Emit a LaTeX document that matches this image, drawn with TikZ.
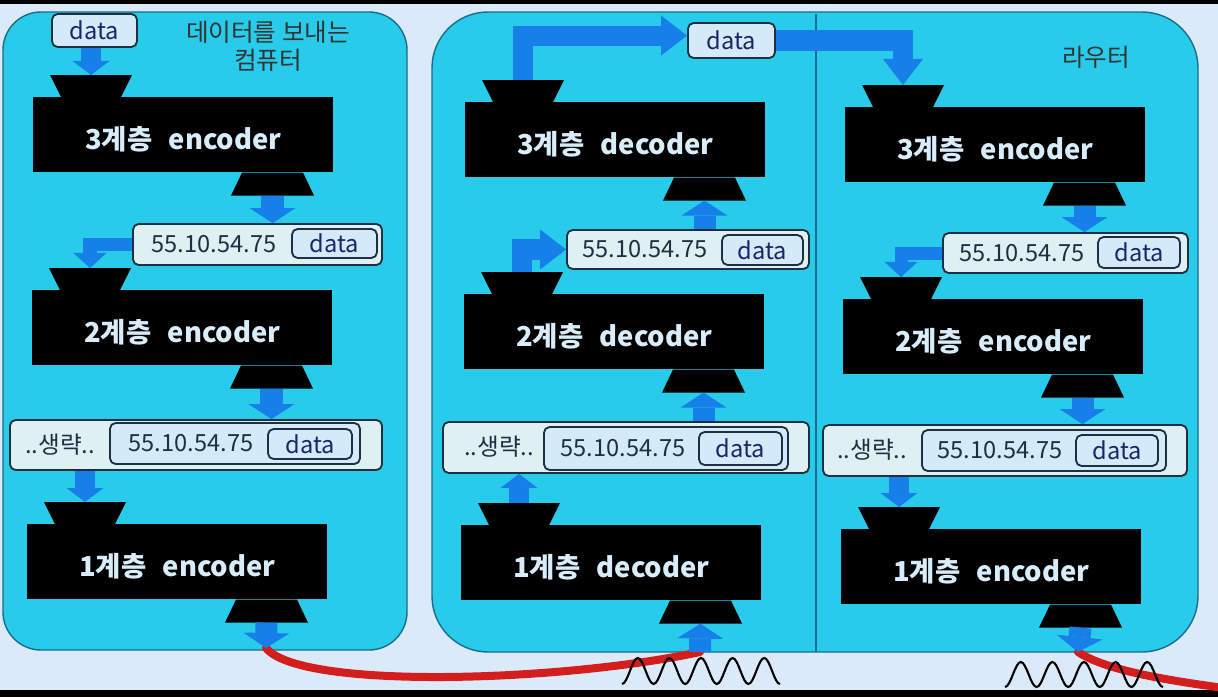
\documentclass[tikz,border=0pt]{standalone}
\usepackage{fontspec}
\setmainfont{Noto Sans CJK KR}
\usetikzlibrary{arrows.meta}

\definecolor{bgcol}{RGB}{218,234,248}
\definecolor{panelfill}{RGB}{40,204,234}
\definecolor{panelline}{RGB}{22,110,140}
\definecolor{arrowblue}{RGB}{22,128,232}
\definecolor{boxfill}{RGB}{222,240,242}
\definecolor{tagfill}{RGB}{212,234,248}
\definecolor{boxline}{RGB}{28,48,66}
\definecolor{blocktext}{RGB}{216,236,250}
\definecolor{cablered}{RGB}{212,30,30}

\newcommand\px[1]{#1*0.025cm}

\begin{document}
\begin{tikzpicture}[x=0.025cm, y=-0.025cm,
  layer/.style={fill=black, inner sep=0pt, minimum width=7.5cm, minimum height=1.875cm},
  layertext/.style={text=blocktext, inner sep=0pt, yshift=-3.2pt,
    font=\fontsize{19.5}{24}\selectfont\bfseries},
  packet/.style={draw=boxline, line width=1.3pt, fill=boxfill, rounded corners=4pt},
  tag/.style={draw=boxline, line width=1.3pt, fill=tagfill, rounded corners=4pt,
    text=boxline!80!blue, font=\fontsize{16.8}{18}\selectfont, inner sep=0pt},
  addr/.style={text=boxline, font=\fontsize{16.8}{18}\selectfont, inner sep=0pt},
  title/.style={text=black!80, font=\fontsize{17.5}{20}\selectfont, align=center},
  bigarrow/.style={draw=arrowblue, line width=0.55cm,
    -{Triangle[length=0.375cm, width=1.15cm, line width=0pt]}},
  smallarrow/.style={draw=arrowblue, line width=0.5cm,
    -{Triangle[length=0.35cm, width=0.925cm, line width=0pt]}},
  bendarrow/.style={draw=arrowblue, line width=0.325cm, line join=miter,
    -{Triangle[length=0.375cm, width=0.825cm, line width=0pt]}},
  toparrow/.style={draw=arrowblue, line width=0.5cm, line join=miter,
    -{Triangle[length=0.65cm, width=1.0cm, line width=0pt]}},
  cable/.style={draw=cablered, line width=0.2cm, line cap=round},
  wave/.style={draw=black, line width=1.5pt}]

\useasboundingbox (0,0) rectangle (1218,697);
\fill[bgcol] (0,0) rectangle (1218,697);
\fill[black] (0,0) rectangle (1218,4);
\fill[black] (0,690) rectangle (1218,697);

% panels
\draw[panelline, fill=panelfill, line width=1pt, rounded corners=0.95cm] (3,12) rectangle (407,650);
\draw[panelline, fill=panelfill, line width=1pt, rounded corners=1.4cm] (432,12) rectangle (1198,652);
\draw[panelline, line width=0.8pt] (816,14) -- (816,651);

\node[title] (sender) at (268,46) {데이터를 보내는\\컴퓨터};
\node[title] (router) at (1096,57) {라우터};

% cables and signals
\coordinate (llink) at (266,648);
\coordinate (mlink) at (700,652);
\coordinate (rlink) at (1078,652);
\coordinate (cableend) at (1224,688);
\draw[cable] (llink) .. controls (300,690) and (560,682) .. (mlink);
\draw[cable] (rlink) .. controls (1105,670) and (1165,680) .. (cableend);
\draw[wave] (622,684) \foreach \i in {1,...,5}{cos ++(7.9,-13) sin ++(7.9,-13) cos ++(7.9,13) sin ++(7.9,13)};
\draw[wave] (1005,687) \foreach \i in {1,...,5}{cos ++(7.9,-12.5) sin ++(7.9,-12.5) cos ++(7.9,12.5) sin ++(7.9,12.5)};

% layer blocks
\foreach \name/\x/\y/\lvl/\word in {L3/33/97/3계층/encoder, L2/32/290/2계층/encoder,
    L1/27/524/1계층/encoder, M3/465/102/3계층/decoder, M2/464/294/2계층/decoder,
    M1/461/525/1계층/decoder, R3/845/107/3계층/encoder, R2/843/299/2계층/encoder,
    R1/841/529/1계층/encoder}{
  \node[layer, anchor=north west] (\name) at (\x,\y) {};
  \node[layertext] (\name-label) at (\name.center) {\lvl\hspace{0.6em}\word};
  \fill ([shift={(28,0)}]\name.north west) -- ++(-11,-22) -- ++(82,0) -- ++(-11,22) -- cycle;
  \fill ([shift={(209,0)}]\name.south west) -- ++(-11,23) -- ++(83,0) -- ++(-11,-23) -- cycle;
  \coordinate (\name-in) at ([shift={(58,-22)}]\name.north west);
  \coordinate (\name-out) at ([shift={(239.5,23)}]\name.south west);
}

% left column
\node[tag, minimum width=\px{85}, minimum height=\px{33}] (ldata) at (94.5,30.5) {data};
\node[packet, minimum width=\px{249}, minimum height=\px{41}] (lp1) at (257.5,244.5) {};
\node[addr] (lp1-addr) at (214,244.5) {55.10.54.75};
\node[tag, minimum width=\px{85}, minimum height=\px{29}] (lp1-data) at (334.5,243.5) {data};
\node[packet, minimum width=\px{372}, minimum height=\px{50}] (lp2) at (196,445) {};
\node[addr] (lp2-skip) at (60,445) {..생략..};
\node[packet, fill=tagfill, minimum width=\px{250}, minimum height=\px{41}] (lp2-in) at (235,443.5) {};
\node[addr] (lp2-addr) at (191,443.5) {55.10.54.75};
\node[tag, minimum width=\px{84}, minimum height=\px{30}] (lp2-data) at (310,444) {data};

% middle column
\node[tag, minimum width=\px{87}, minimum height=\px{35}] (mdata) at (731.5,40.5) {data};
\coordinate (mdata-in) at ([yshift=3.5pt]mdata.west);
\node[packet, minimum width=\px{242}, minimum height=\px{39}] (mp1) at (688,249.5) {};
\node[addr] (mp1-addr) at (645,249.5) {55.10.54.75};
\node[tag, minimum width=\px{81}, minimum height=\px{30}] (mp1-data) at (762.5,250) {data};
\node[packet, minimum width=\px{366}, minimum height=\px{51}] (mp2) at (626,447.5) {};
\node[addr] (mp2-skip) at (499,447) {..생략..};
\node[packet, fill=tagfill, minimum width=\px{244}, minimum height=\px{43}] (mp2-in) at (666,448.5) {};
\node[addr] (mp2-addr) at (623,448) {55.10.54.75};
\node[tag, minimum width=\px{83}, minimum height=\px{33}] (mp2-data) at (740.5,448.5) {data};

% right column
\node[packet, minimum width=\px{245}, minimum height=\px{40}] (rp1) at (1065.5,253) {};
\node[addr] (rp1-addr) at (1022,253) {55.10.54.75};
\node[tag, minimum width=\px{82}, minimum height=\px{31}] (rp1-data) at (1139,252.5) {data};
\node[packet, minimum width=\px{364}, minimum height=\px{51}] (rp2) at (1005,450.5) {};
\node[addr] (rp2-skip) at (872,450) {..생략..};
\node[packet, fill=tagfill, minimum width=\px{244}, minimum height=\px{41}] (rp2-in) at (1044,450.5) {};
\node[addr] (rp2-addr) at (1000,450.5) {55.10.54.75};
\node[tag, minimum width=\px{82}, minimum height=\px{31}] (rp2-data) at (1117,450.5) {data};

% arrows: sender
\draw[smallarrow] (ldata.south -| L3-in) -- (L3-in);
\draw[bigarrow] (L3-out) -- (L3-out |- lp1.north);
\draw[bendarrow] (lp1.west) -- (lp1.west -| L2-in) -- (L2-in);
\draw[bigarrow] (L2-out) -- (L2-out |- lp2.north);
\draw[smallarrow] (L1-in |- lp2.south) -- (L1-in);
\draw[bigarrow] (L1-out) -- (llink);

% arrows: router
\draw[bigarrow] (mlink) -- (M1-out);
\draw[smallarrow] (M1-in) -- (M1-in |- mp2.south);
\draw[bigarrow] (M2-out |- mp2.north) -- (M2-out);
\draw[toparrow] (M2-in) -- (M2-in |- mp1.west) -- (mp1.west);
\draw[bigarrow] (M3-out |- mp1.north) -- (M3-out);
\draw[toparrow] (M3-in) -- (M3-in |- mdata-in) -- (mdata-in);
\draw[toparrow] (mdata.east) -- (mdata.east -| R3-in) -- (R3-in);
\draw[bigarrow] (R3-out) -- (R3-out |- rp1.north);
\draw[bendarrow] (rp1.west) -- (rp1.west -| R2-in) -- (R2-in);
\draw[bigarrow] (R2-out) -- (R2-out |- rp2.north);
\draw[smallarrow] (R1-in |- rp2.south) -- (R1-in);
\draw[bigarrow] (R1-out) -- (rlink);

\end{tikzpicture}
\end{document}
